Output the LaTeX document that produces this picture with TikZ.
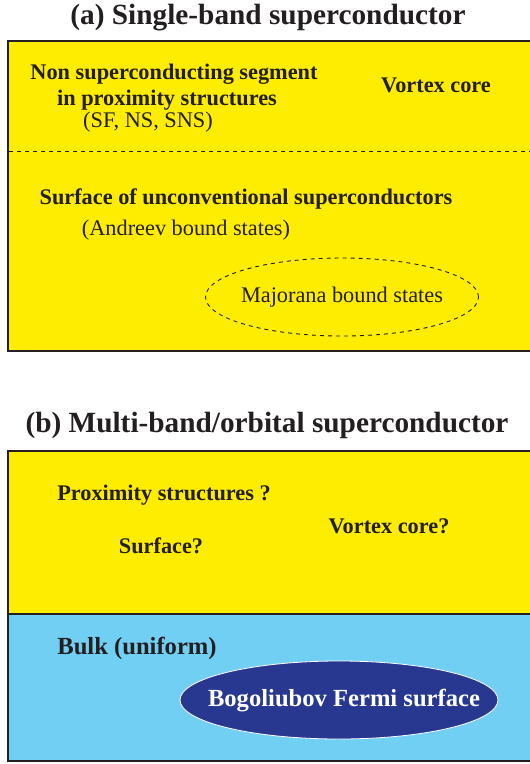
\documentclass[tikz,border=0pt]{standalone}
\usepackage{fontspec}
\setmainfont{Liberation Serif}
\usetikzlibrary{shapes.geometric}
\definecolor{scyellow}{HTML}{FFED00}
\definecolor{sclight}{HTML}{72CFF4}
\definecolor{scdark}{HTML}{283891}
\definecolor{scframe}{HTML}{231F20}
\tikzset{
  frame/.style={draw=scframe, line width=2pt},
  title/.style={font=\fontsize{29.3}{32}\selectfont\bfseries, text=scframe, inner sep=0pt},
  lab/.style={font=\fontsize{22.3}{25}\selectfont\bfseries, text=scframe, inner sep=0pt},
  biglab/.style={font=\fontsize{24.6}{27}\selectfont\bfseries, text=scframe, inner sep=0pt},
  sub/.style={font=\fontsize{22.3}{25}\selectfont, text=scframe, inner sep=0pt},
  dashline/.style={draw=scframe, line width=0.9pt, dash pattern=on 4pt off 4pt},
  oval/.style={ellipse, inner sep=0pt, outer sep=0pt},
}
\begin{document}
\begin{tikzpicture}[x=1pt,y=-1pt]
\useasboundingbox (0,0) rectangle (530,764);
\clip (0,0) rectangle (530,764);
% panel (a)
\node[title] (ta) at (268,18) {(a) Single-band superconductor};
\fill[scyellow] (8,41) rectangle (545,351);
\draw[frame] (8,41) rectangle (545,351);
\coordinate (dl) at (9,151);
\coordinate (dr) at (545,151);
\draw[dashline] (dl) -- (dr);
\node[lab] (n1) at (174,74) {Non superconducting segment};
\node[lab] (n2) at (167,100) {in proximity structures};
\node[sub] (n3) at (148,122) {(SF, NS, SNS)};
\node[lab] (vc) at (436,85) {Vortex core};
\node[lab] (su) at (246,199) {Surface of unconventional superconductors};
\node[sub] (ab) at (186,230) {(Andreev bound states)};
\node[oval, dashline, minimum width=273pt, minimum height=78pt] (mj) at (342,297) {};
\node[sub] (mjt) at (mj.center) {Majorana bound states};
% panel (b)
\node[title] (tb) at (267,425) {(b) Multi-band/orbital superconductor};
\fill[scyellow] (8,451) rectangle (545,614);
\fill[sclight] (8,614) rectangle (545,761);
\draw[frame] (8,451) rectangle (545,761);
\coordinate (bl) at (8,614);
\coordinate (br) at (545,614);
\draw[frame] (bl) -- (br);
\node[lab] (px) at (164,495) {Proximity structures ?};
\node[lab] (vq) at (389,526) {Vortex core?};
\node[lab] (sq) at (161,546) {Surface?};
\node[biglab] (bk) at (137,648) {Bulk (uniform)};
\node[oval, fill=scdark, draw=white, line width=0.8pt, minimum width=318pt, minimum height=78pt] (bf) at (339,700) {};
\node[biglab, text=white] (bft) at (344,701) {Bogoliubov Fermi surface};
\end{tikzpicture}
\end{document}
